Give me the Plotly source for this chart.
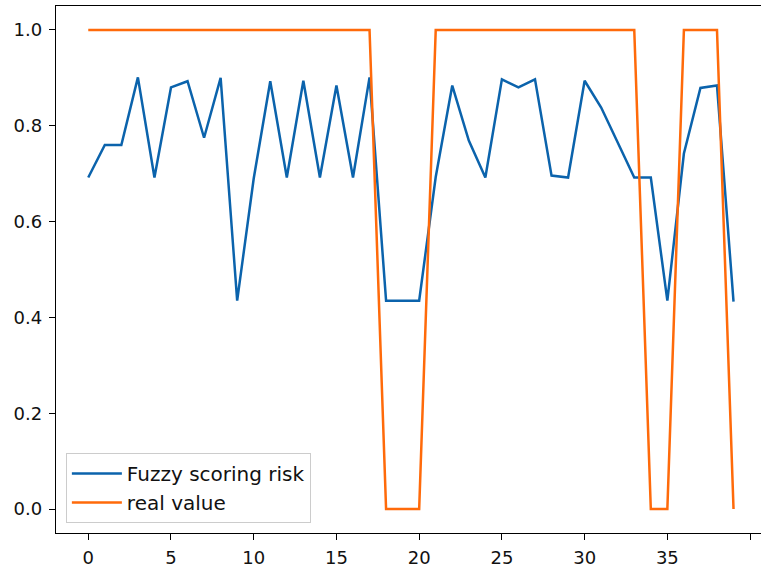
import plotly.graph_objects as go

x_idx = list(range(40))
fuzzy_risk = [0.692, 0.760, 0.760, 0.901, 0.692, 0.880, 0.893, 0.775, 0.900, 0.435,
              0.690, 0.893, 0.692, 0.894, 0.692, 0.884, 0.692, 0.901, 0.435, 0.435,
              0.435, 0.693, 0.884, 0.769, 0.692, 0.897, 0.880, 0.897, 0.696, 0.692,
              0.894, 0.838, 0.765, 0.692, 0.692, 0.435, 0.742, 0.879, 0.884, 0.433]
real_value = [1]*18 + [0]*3 + [1]*13 + [0]*2 + [1]*3 + [0]
x_ticks = [0, 5, 10, 15, 20, 25, 30, 35, 40]
y_ticks = [0.0, 0.2, 0.4, 0.6, 0.8, 1.0]

fig = go.Figure()
fig.add_trace(go.Scatter(x=x_idx, y=fuzzy_risk, mode="lines", name="Fuzzy scoring risk",
                         line=dict(color="#0b63ac", width=2.5)))
fig.add_trace(go.Scatter(x=x_idx, y=real_value, mode="lines", name="real value",
                         line=dict(color="#ff6a0a", width=2.5)))

fig.update_layout(
    width=761, height=569,
    margin=dict(l=56, r=0, t=6, b=36, autoexpand=False),
    plot_bgcolor="white", paper_bgcolor="white",
    font=dict(family="DejaVu Sans", size=18, color="#111111"),
    showlegend=True,
    legend=dict(x=0.014, y=0.019, xanchor="left", yanchor="bottom",
                bordercolor="#cccccc", borderwidth=1, bgcolor="white",
                font=dict(size=20), tracegroupgap=0, itemwidth=50),
    xaxis=dict(range=[-1.95, 40.66], tickvals=x_ticks, ticktext=[str(v) for v in x_ticks],
               showgrid=False, zeroline=False, showline=True, linecolor="black",
               linewidth=1.3, mirror=True, ticks="outside", ticklen=6, tickcolor="black",
               ticklabelstandoff=2, automargin=False),
    yaxis=dict(range=[-0.05, 1.05], tickvals=y_ticks, ticktext=[f"{v:.1f}" for v in y_ticks],
               showgrid=False, zeroline=False, showline=True, linecolor="black",
               linewidth=1.3, ticks="outside", ticklen=6, tickcolor="black",
               ticklabelstandoff=3, automargin=False),
)

fig.write_html("out.html")
